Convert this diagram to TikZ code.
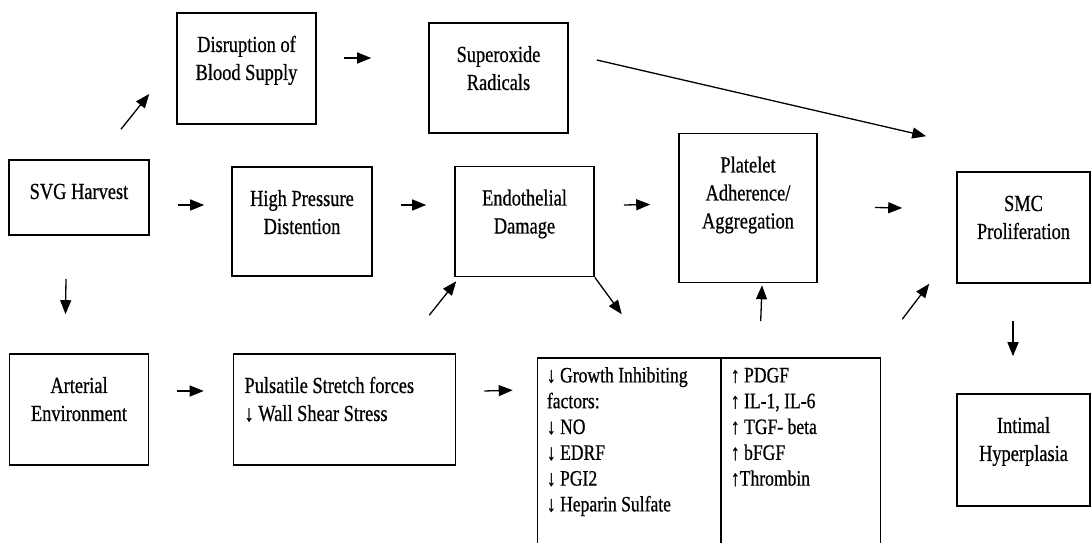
\documentclass[tikz,border=0pt]{standalone}
\usepackage{fontspec}
\setmainfont{Liberation Serif}[FakeStretch = 0.8, FakeBold = 0.6]
\usepackage{tikz}
\usetikzlibrary{arrows.meta, positioning}
\tikzstyle{box} = [rectangle, draw = black, line width = 1.6pt, inner sep = 0pt,
  font = \fontsize{23}{28}\selectfont]
\tikzstyle{list} = [inner sep = 0pt, anchor = north west, align = left,
  font = \fontsize{22}{25.8}\selectfont]
\tikzstyle{arr} = [-{Triangle[length = 14pt, width = 11pt]}, line width = 1.3pt]
\newcommand{\boxtext}[3]{\begin{minipage}[c][#2pt][t]{#1pt}\centering
  \rule{0pt}{39pt}#3\end{minipage}}
\newcommand{\boxtextl}[3]{\begin{minipage}[c][#2pt][t]{#1pt}\raggedright
  \leftskip = 11pt\rule{0pt}{39pt}#3\end{minipage}}

\begin{document}
\begin{tikzpicture}[node distance = 0, x = 1pt, y = 1pt]
      \useasboundingbox (0, 0) rectangle (1092, 543);
      % top row
      \node [box] at (79, 345.5) (svg) {\boxtext{140}{75}{SVG Harvest}};
      \node [box, right of = svg, xshift = 167.5, yshift = 129] (dis)
        {\boxtext{139}{111}{Disruption of\\Blood Supply}};
      \node [box, right of = dis, xshift = 252, yshift = -9.5] (sup)
        {\boxtext{139}{110}{Superoxide\\Radicals}};
      % middle row
      \node [box, right of = svg, xshift = 223, yshift = -24] (hp)
        {\boxtext{140}{109}{High Pressure\\Distention}};
      \node [box, right of = hp, xshift = 222.5] (endo)
        {\boxtext{139}{110}{Endothelial\\Damage}};
      \node [box, right of = endo, xshift = 223.5, yshift = 13.5] (plt)
        {\boxtext{138}{149}{Platelet\\Adherence/\\Aggregation}};
      \node [box, right of = plt, xshift = 275.5, yshift = -19.5] (smc)
        {\boxtext{133}{111}{SMC\\Proliferation}};
      \node [box, below of = smc, yshift = -222.5] (int)
        {\boxtext{133}{112}{Intimal\\Hyperplasia}};
      % bottom row
      \node [box, below of = svg, yshift = -212] (art)
        {\boxtext{139}{111}{Arterial\\Environment}};
      \node [box, right of = art, xshift = 265.5] (puls)
        {\boxtextl{222}{111}{Pulsatile Stretch forces\\↓ Wall Shear Stress}};
      \node [box, right of = puls, xshift = 364.5, yshift = -49.5,
        minimum width = 343, minimum height = 202] (fac) {};
      \draw [line width = 1.6pt] ([xshift = 184]fac.north west) --
        ([xshift = 184]fac.south west);
      \node [list] at ([shift = {(10, 0)}]fac.north west) (fac-l)
        {\rule{0pt}{25pt}↓ Growth Inhibiting\\factors:\\↓ NO\\↓ EDRF\\↓ PGI2\\↓ Heparin Sulfate};
      \node [list] at ([shift = {(194, 0)}]fac.north west) (fac-r)
        {\rule{0pt}{25pt}↑ PDGF\\↑ IL-1, IL-6\\↑ TGF- beta\\↑ bFGF\\↑Thrombin};

      % svg
      \draw [arr] ([shift = {(42, 30)}]svg.north) -- ([shift = {(-27, -25.5)}]dis.west);
      \draw [arr] ([shift = {(28, -7.5)}]svg.east) -- ([shift = {(-27, 16.5)}]hp.west);
      \draw [arr] ([shift = {(-13, -43)}]svg.south) -- ([shift = {(-13.5, 39)}]art.north);
      % top row
      \draw [arr] ([shift = {(27, 10.5)}]dis.east) -- ([shift = {(-57, 20)}]sup.west);
      \draw [arr] ([shift = {(28, 18)}]sup.east) -- ([shift = {(-30, 35)}]smc.north west);
      % middle row
      \draw [arr] ([shift = {(28, 16.5)}]hp.east) -- ([shift = {(-28, 16.5)}]endo.west);
      \draw [arr] ([shift = {(29, 16.5)}]endo.east) -- ([shift = {(-28, 3.5)}]plt.west);
      \draw [arr] ([shift = {(57, 0.5)}]plt.east) -- ([shift = {(-54, 19.5)}]smc.west);
      \draw [arr] (endo.south east) -- ([shift = {(85, 43)}]fac.north west);
      \draw [arr] ([shift = {(-10.5, -37)}]smc.south) -- ([shift = {(-10.5, 37)}]int.north);
      % bottom row
      \draw [arr] ([shift = {(28, 18.5)}]art.east) -- ([shift = {(-29, 18.5)}]puls.west);
      \draw [arr] ([shift = {(28, 18.5)}]puls.east) -- ([shift = {(-24, -33)}]fac.north west);
      \draw [arr] ([shift = {(-27, 38)}]puls.north east) -- ([shift = {(2, -4)}]endo.south west);
      \draw [arr] ([shift = {(224, 36)}]fac.north west) -- ([shift = {(14, -2)}]plt.south);
      \draw [arr] ([shift = {(21, 38)}]fac.north east) -- ([shift = {(-27, 0)}]smc.south west);
    \end{tikzpicture}
\end{document}
